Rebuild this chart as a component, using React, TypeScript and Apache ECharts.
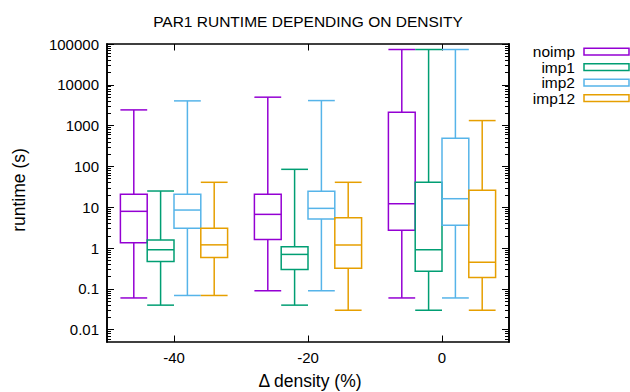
import React, { useEffect, useRef } from "react";
import * as echarts from "echarts";

// x positions (Δ density %) and series
const groupX = [-40, -20, 0];
const seriesNames = ["noimp", "imp1", "imp2", "imp12"];
const seriesOffsets = [-6, -2, 2, 6];
// each entry: [min, q1, median, q3, max] per group
const noimp = [
  [0.06, 1.35, 7.95, 20.8, 2430],
  [0.09, 1.63, 6.7, 20.8, 4980],
  [0.06, 2.72, 12.2, 2130, 73300],
];
const imp1 = [
  [0.04, 0.47, 0.91, 1.57, 25],
  [0.04, 0.3, 0.7, 1.08, 85],
  [0.03, 0.27, 0.91, 40.9, 73300],
];
const imp2 = [
  [0.069, 3.04, 8.55, 20.8, 4040],
  [0.09, 5.15, 9.4, 24.6, 4110],
  [0.06, 3.6, 16.2, 491, 73300],
];
const imp12 = [
  [0.069, 0.59, 1.2, 3.04, 40.9],
  [0.03, 0.32, 1.19, 5.5, 40.9],
  [0.03, 0.19, 0.45, 26, 1330],
];
const yMajorTicks = [0.01, 0.1, 1, 10, 100, 1000, 10000, 100000];
const xTicks = [-40, -20, 0];

const allSeries = [noimp, imp1, imp2, imp12];
const colors = ["#9400d3", "#009e73", "#56b4e9", "#e69f00"];
const BOX_W = 4;
const FONT = "Liberation Sans, Arial, sans-serif";

const yMinorTicks: number[] = [];
for (let e = -3; e <= 4; e++) {
  for (let m = 2; m <= 9; m++) {
    const v = parseFloat((m * Math.pow(10, e)).toPrecision(3));
    if (v > 0.005 && v < 100000) yMinorTicks.push(v);
  }
}

const fmt = (v: number) =>
  v >= 1 ? String(Math.round(v)) : String(parseFloat(v.toPrecision(2)));

export default function App() {
  const ref = useRef<HTMLDivElement>(null);
  useEffect(() => {
    if (!ref.current) return;
    const chart = echarts.init(ref.current, null, { renderer: "svg" });
    const lineStyle = { color: "#000", width: 1.6 };
    const yBase = {
      type: "log" as const,
      min: 0.005,
      max: 100000,
      logBase: 10,
      splitLine: { show: false },
      minorTick: { show: false },
      axisLine: { show: true, onZero: false, lineStyle },
    };
    const option: any = {
      animation: false,
      grid: { left: 107, right: 121, top: 44, bottom: 50 },
      xAxis: [
        {
          type: "value",
          min: -50,
          max: 10,
          position: "bottom",
          splitLine: { show: false },
          axisLine: { show: true, onZero: false, lineStyle },
          axisTick: { inside: true, length: 6.5, customValues: xTicks, lineStyle: { color: "#000", width: 1 } },
          axisLabel: { customValues: xTicks, fontFamily: FONT, fontSize: 15, color: "#000", margin: 8 },
        },
        {
          type: "value",
          min: -50,
          max: 10,
          position: "top",
          splitLine: { show: false },
          axisLine: { show: true, onZero: false, lineStyle },
          axisTick: { inside: true, length: 6.5, customValues: xTicks, lineStyle: { color: "#000", width: 1 } },
          axisLabel: { show: false },
        },
      ],
      yAxis: [
        {
          ...yBase,
          position: "left",
          axisTick: { inside: true, length: 7, customValues: yMajorTicks, lineStyle: { color: "#000", width: 1 } },
          axisLabel: {
            customValues: yMajorTicks,
            fontFamily: FONT,
            fontSize: 15,
            color: "#000",
            margin: 8,
            formatter: (v: number) => fmt(v),
          },
        },
        {
          ...yBase,
          position: "left",
          axisTick: { inside: true, length: 4, customValues: yMinorTicks, lineStyle: { color: "#000", width: 1 } },
          axisLabel: { show: false },
        },
        {
          ...yBase,
          position: "right",
          axisTick: { inside: true, length: 7, customValues: yMajorTicks, lineStyle: { color: "#000", width: 1 } },
          axisLabel: { show: false },
        },
        {
          ...yBase,
          position: "right",
          axisTick: { inside: true, length: 4, customValues: yMinorTicks, lineStyle: { color: "#000", width: 1 } },
          axisLabel: { show: false },
        },
      ],
      series: allSeries.map((vals, si) => ({
        type: "custom",
        name: seriesNames[si],
        xAxisIndex: 0,
        yAxisIndex: 0,
        data: vals.map((d, gi) => [groupX[gi] + seriesOffsets[si], ...d]),
        encode: { x: 0, y: [1, 2, 3, 4, 5] },
        renderItem: (params: any, api: any) => {
          const x = api.value(0);
          const lo = api.value(1);
          const q1 = api.value(2);
          const med = api.value(3);
          const q3 = api.value(4);
          const hi = api.value(5);
          const left = api.coord([x - BOX_W / 2, med])[0];
          const right = api.coord([x + BOX_W / 2, med])[0];
          const cx = api.coord([x, med])[0];
          const yLo = api.coord([x, lo])[1];
          const yQ1 = api.coord([x, q1])[1];
          const yMed = api.coord([x, med])[1];
          const yQ3 = api.coord([x, q3])[1];
          const yHi = api.coord([x, hi])[1];
          const style = { stroke: colors[si], lineWidth: 1.5, fill: "none" };
          return {
            type: "group",
            children: [
              { type: "rect", shape: { x: left, y: yQ3, width: right - left, height: yQ1 - yQ3 }, style },
              { type: "line", shape: { x1: left, y1: yMed, x2: right, y2: yMed }, style },
              { type: "line", shape: { x1: cx, y1: yQ3, x2: cx, y2: yHi }, style },
              { type: "line", shape: { x1: cx, y1: yQ1, x2: cx, y2: yLo }, style },
              { type: "line", shape: { x1: left, y1: yHi, x2: right, y2: yHi }, style },
              { type: "line", shape: { x1: left, y1: yLo, x2: right, y2: yLo }, style },
            ],
          };
        },
      })),
      graphic: [
        {
          type: "text",
          x: 308,
          y: 21,
          style: {
            text: "PAR1 RUNTIME DEPENDING ON DENSITY",
            textAlign: "center",
            textVerticalAlign: "middle",
            fontFamily: FONT,
            fontSize: 15.5,
            fill: "#000",
          },
        },
        {
          type: "text",
          x: 19,
          y: 190,
          rotation: Math.PI / 2,
          style: {
            text: "runtime (s)",
            textAlign: "center",
            textVerticalAlign: "middle",
            fontFamily: FONT,
            fontSize: 17.5,
            fill: "#000",
          },
        },
        {
          type: "text",
          x: 310,
          y: 381,
          style: {
            text: "Δ density (%)",
            textAlign: "center",
            textVerticalAlign: "middle",
            fontFamily: FONT,
            fontSize: 17.5,
            fill: "#000",
          },
        },
        ...seriesNames.flatMap((n, i) => {
          const cy = 51.7 + i * 15.5;
          return [
            {
              type: "text",
              x: 575,
              y: cy,
              style: {
                text: n,
                textAlign: "right",
                textVerticalAlign: "middle",
                fontFamily: FONT,
                fontSize: 15.5,
                fill: "#000",
              },
            },
            {
              type: "rect",
              shape: { x: 584, y: cy - 3.4, width: 45, height: 6.8 },
              style: { fill: "none", stroke: colors[i], lineWidth: 1.5 },
            },
          ];
        }),
      ],
    };
    chart.setOption(option);
    return () => chart.dispose();
  }, []);
  return <div ref={ref} style={{ width: 630, height: 392, position: "absolute", left: 0, top: 0 }} />;
}
